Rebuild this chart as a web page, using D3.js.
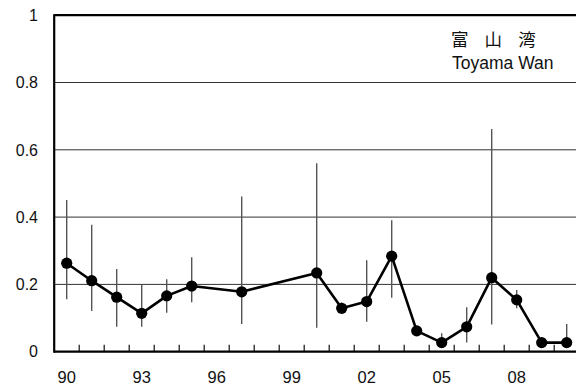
<!DOCTYPE html>
<html>
<head>
<meta charset="utf-8">
<script src="https://cdn.jsdelivr.net/npm/d3@7/dist/d3.min.js"></script>
<style>
  html, body { margin: 0; padding: 0; background: #fff; overflow: hidden; }
  svg { display: block; }
</style>
</head>
<body>
<script>
// Annual values, Toyama Bay (null = no survey that year)
const years  = [1990, 1991, 1992, 1993, 1994, 1995, 1996, 1997, 1998, 1999, 2000,
                2001, 2002, 2003, 2004, 2005, 2006, 2007, 2008, 2009, 2010];
const means  = [0.263, 0.211, 0.162, 0.114, 0.166, 0.195, null, 0.178, null, null, 0.234,
                0.129, 0.149, 0.284, 0.062, 0.027, 0.074, 0.220, 0.154, 0.027, 0.027];
const highs  = [0.451, 0.377, 0.246, 0.200, 0.215, 0.281, null, 0.461, null, null, 0.560,
                0.146, 0.272, 0.391, null, 0.055, 0.132, 0.662, 0.183, null, 0.082];
const lows   = [0.156, 0.121, 0.074, 0.074, 0.116, 0.147, null, 0.082, null, null, 0.071,
                0.114, 0.089, 0.160, null, 0.027, 0.027, 0.081, 0.129, null, 0.027];
const yTicks = [0, 0.2, 0.4, 0.6, 0.8, 1];
const xLabelYears = [1990, 1993, 1996, 1999, 2002, 2005, 2008];
const titleJa = "富山湾";
const titleEn = "Toyama Wan";

const W = 576, H = 390;
const plotLeft = 54.2, plotTop = 15.2, plotBottom = 351.7, bandW = 25;

const svg = d3.select("body").append("svg")
  .attr("width", W).attr("height", H);

const x = d3.scaleBand()
  .domain(years)
  .range([plotLeft, plotLeft + bandW * years.length])
  .padding(0);
const cx = yr => x(yr) + x.bandwidth() / 2;

const y = d3.scaleLinear().domain([0, 1]).range([plotBottom, plotTop]);

// horizontal gridlines
svg.append("g").selectAll("line")
  .data(yTicks.filter(t => t > 0 && t < 1))
  .join("line")
  .attr("x1", plotLeft).attr("x2", W + 5)
  .attr("y1", d => y(d)).attr("y2", d => y(d))
  .attr("stroke", "#333").attr("stroke-width", 1);

// y tick labels
svg.append("g").selectAll("text")
  .data(yTicks)
  .join("text")
  .attr("x", 38)
  .attr("y", d => y(d))
  .attr("dy", "0.36em")
  .attr("text-anchor", "end")
  .attr("font-family", "Liberation Sans, Arial, sans-serif")
  .attr("font-size", 16)
  .attr("fill", "#111")
  .text(d => d3.format("~g")(d));

// x-axis tick marks at band boundaries, pointing into the plot
svg.append("g").selectAll("line")
  .data(years.slice(1))
  .join("line")
  .attr("x1", d => x(d)).attr("x2", d => x(d))
  .attr("y1", plotBottom).attr("y2", plotBottom - 7)
  .attr("stroke", "#111").attr("stroke-width", 1.2);

// x labels (two-digit years)
svg.append("g").selectAll("text")
  .data(xLabelYears)
  .join("text")
  .attr("x", d => cx(d))
  .attr("y", 383.3)
  .attr("text-anchor", "middle")
  .attr("font-family", "Liberation Sans, Arial, sans-serif")
  .attr("font-size", 16.5)
  .attr("fill", "#111")
  .text(d => String(d % 100).padStart(2, "0"));

// plot frame: top, left, bottom
svg.append("line").attr("x1", plotLeft).attr("x2", W + 5).attr("y1", plotTop).attr("y2", plotTop)
  .attr("stroke", "#000").attr("stroke-width", 2.2);
svg.append("line").attr("x1", plotLeft).attr("x2", plotLeft).attr("y1", plotTop - 1).attr("y2", plotBottom + 1)
  .attr("stroke", "#000").attr("stroke-width", 2.2);
svg.append("line").attr("x1", plotLeft).attr("x2", W + 5).attr("y1", plotBottom).attr("y2", plotBottom)
  .attr("stroke", "#000").attr("stroke-width", 2.2);

const rows = years.map((yr, i) => ({ yr, m: means[i], hi: highs[i], lo: lows[i] }));

// range bars
svg.append("g").selectAll("line")
  .data(rows.filter(d => d.hi != null && d.lo != null))
  .join("line")
  .attr("x1", d => cx(d.yr)).attr("x2", d => cx(d.yr))
  .attr("y1", d => y(d.hi)).attr("y2", d => y(d.lo))
  .attr("stroke", "#555").attr("stroke-width", 1.4);

// mean line connecting surveyed years
const pts = rows.filter(d => d.m != null);
svg.append("path")
  .datum(pts)
  .attr("d", d3.line().x(d => cx(d.yr)).y(d => y(d.m)))
  .attr("fill", "none")
  .attr("stroke", "#000")
  .attr("stroke-width", 2.6)
  .attr("stroke-linejoin", "round");

svg.append("g").selectAll("circle")
  .data(pts)
  .join("circle")
  .attr("cx", d => cx(d.yr)).attr("cy", d => y(d.m))
  .attr("r", 5.6)
  .attr("fill", "#000");

// title
svg.append("text")
  .attr("x", 451).attr("y", 45.5)
  .attr("font-family", "Noto Sans CJK JP, sans-serif")
  .attr("font-size", 17.5)
  .attr("letter-spacing", 16.1)
  .attr("fill", "#111")
  .text(titleJa);
svg.append("text")
  .attr("x", 452).attr("y", 68.5)
  .attr("font-family", "Liberation Sans, Arial, sans-serif")
  .attr("font-size", 17.5)
  .attr("fill", "#111")
  .text(titleEn);
</script>
</body>
</html>
